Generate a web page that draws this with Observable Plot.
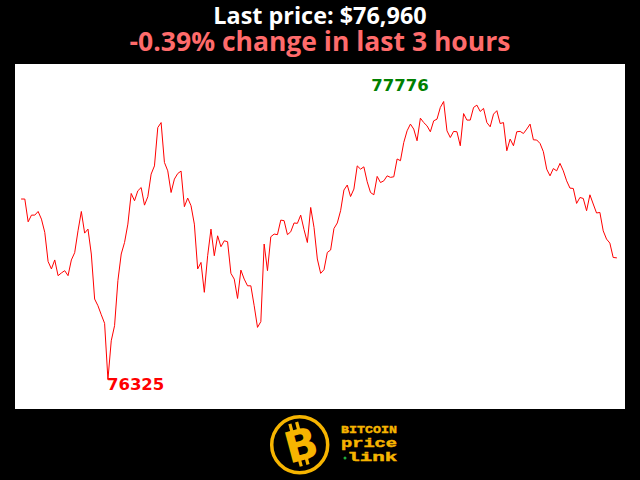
<!DOCTYPE html>
<html>
<head>
<meta charset="utf-8">
<script src="https://cdn.jsdelivr.net/npm/d3@7"></script>
<script src="https://cdn.jsdelivr.net/npm/@observablehq/plot@0.6"></script>
<style>
  html, body { margin: 0; padding: 0; background: #000; width: 640px; height: 480px; overflow: hidden; }
  .hdr { position: absolute; left: 0; width: 640px; text-align: center; font-family: "Open Sans", sans-serif; font-weight: 700; white-space: nowrap; }
  #title { top: 5px; font-size: 23.4px; line-height: 20px; height: 20px; color: #ffffff; }
  #subtitle { top: 29px; font-size: 26.5px; line-height: 24px; height: 24px; color: #ff6b6b; }
  #chart { position: absolute; left: 15px; top: 64px; }
  #logo { position: absolute; left: 265px; top: 410px; }
</style>
</head>
<body>
<div id="title" class="hdr"></div>
<div id="subtitle" class="hdr"></div>
<div id="chart"></div>
<svg id="logo" width="150" height="70" xmlns="http://www.w3.org/2000/svg">
  <circle cx="34.7" cy="34.7" r="28" fill="#000" stroke="#f6b400" stroke-width="3.5"></circle>
  <g transform="rotate(-15 34.7 34.7)" fill="#f6b400">
    <rect x="29" y="12" width="3.2" height="8"></rect>
    <rect x="36" y="12" width="3.2" height="8"></rect>
    <rect x="29" y="49" width="3.2" height="7"></rect>
    <rect x="36" y="49" width="3.2" height="7"></rect>
    <text x="36" y="50.5" text-anchor="middle" font-family="DejaVu Sans" font-weight="bold" font-size="43">B</text>
  </g>
  <text id="l1" x="76" y="23" font-family="Liberation Mono" font-weight="bold" font-size="11.5" fill="#f6b400" stroke="#f6b400" stroke-width="0.4" textLength="56" lengthAdjust="spacingAndGlyphs"></text>
  <text id="l2" x="76" y="37" font-family="Liberation Mono" font-weight="bold" font-size="12" fill="#f6b400" stroke="#f6b400" stroke-width="0.4" textLength="56" lengthAdjust="spacingAndGlyphs"></text>
  <circle cx="80" cy="48" r="1.5" fill="#1fae3a"></circle>
  <text id="l3" x="82.3" y="51" font-family="Liberation Mono" font-weight="bold" font-size="12" fill="#f6b400" stroke="#f6b400" stroke-width="0.4" textLength="50" lengthAdjust="spacingAndGlyphs"></text>
</svg>
<script>
const titleText = "Last price: $76,960";
const subtitleText = "-0.39% change in last 3 hours";
const logoLines = ["BITCOIN", "price", "link"];

// one price per minute over the last 3 hours (USD)
const prices = [
  77267, 77267, 77148, 77183, 77183, 77202, 77162, 77093, 76941, 76902,
  76949, 76867, 76881, 76893, 76867, 76949, 76987, 77101, 77202, 77089,
  77110, 76980, 76745, 76710, 76663, 76618, 76325, 76527, 76606, 76841,
  76980, 77040, 77136, 77296, 77258, 77310, 77327, 77235, 77279, 77397,
  77440, 77640, 77666, 77458, 77414, 77301, 77371, 77400, 77413, 77227,
  77272, 77232, 77136, 76902, 76936, 76780, 76971, 77110, 76971, 77075,
  77018, 77049, 77044, 76879, 76849, 76748, 76896, 76849, 76814, 76814,
  76710, 76597, 76627, 77032, 76893, 77070, 77084, 77081, 77157, 77154,
  77081, 77096, 77142, 77140, 77183, 77107, 77040, 77223, 77119, 76954,
  76879, 76898, 76988, 77001, 77113, 77142, 77206, 77314, 77340, 77280,
  77319, 77440, 77423, 77435, 77357, 77301, 77289, 77385, 77353, 77362,
  77388, 77380, 77383, 77476, 77467, 77562, 77623, 77658, 77632, 77571,
  77689, 77666, 77649, 77618, 77675, 77684, 77745, 77776, 77623, 77588,
  77620, 77618, 77545, 77713, 77679, 77679, 77745, 77757, 77724, 77740,
  77666, 77644, 77710, 77728, 77661, 77666, 77519, 77580, 77545, 77618,
  77620, 77609, 77632, 77658, 77576, 77575, 77557, 77514, 77423, 77388,
  77426, 77414, 77453, 77414, 77362, 77324, 77322, 77244, 77275, 77270,
  77206, 77289, 77241, 77194, 77197, 77101, 77058, 77037, 76962, 76960
];

document.getElementById("title").textContent = titleText;
document.getElementById("subtitle").textContent = subtitleText;
document.getElementById("l1").textContent = logoLines[0];
document.getElementById("l2").textContent = logoLines[1];
document.getElementById("l3").textContent = logoLines[2];

const data = prices.map((p, i) => ({minute: i, price: p}));
const iMin = d3.minIndex(prices);
const iMax = d3.maxIndex(prices);

const chart = Plot.plot({
  width: 610,
  height: 345,
  marginLeft: 6,
  marginRight: 9,
  marginTop: 37,
  marginBottom: 30,
  style: {background: "#ffffff", overflow: "visible"},
  x: {axis: null, domain: [0, prices.length - 1]},
  y: {axis: null, domain: [d3.min(prices), d3.max(prices)]},
  marks: [
    Plot.line(data, {x: "minute", y: "price", stroke: "#ff0000", strokeWidth: 1}),
    Plot.text([data[iMin]], {x: "minute", y: "price", text: d => String(d.price), fill: "#ff0000",
      textAnchor: "start", lineAnchor: "bottom", dx: -1, dy: 10.5,
      fontSize: 16.5, fontWeight: "bold", fontFamily: "DejaVu Sans"}),
    Plot.text([data[iMax]], {x: "minute", y: "price", text: d => String(d.price), fill: "#008000",
      textAnchor: "end", lineAnchor: "bottom", dx: -15, dy: -10.5,
      fontSize: 16.5, fontWeight: "bold", fontFamily: "DejaVu Sans"})
  ]
});
document.getElementById("chart").appendChild(chart);
</script>
</body>
</html>
